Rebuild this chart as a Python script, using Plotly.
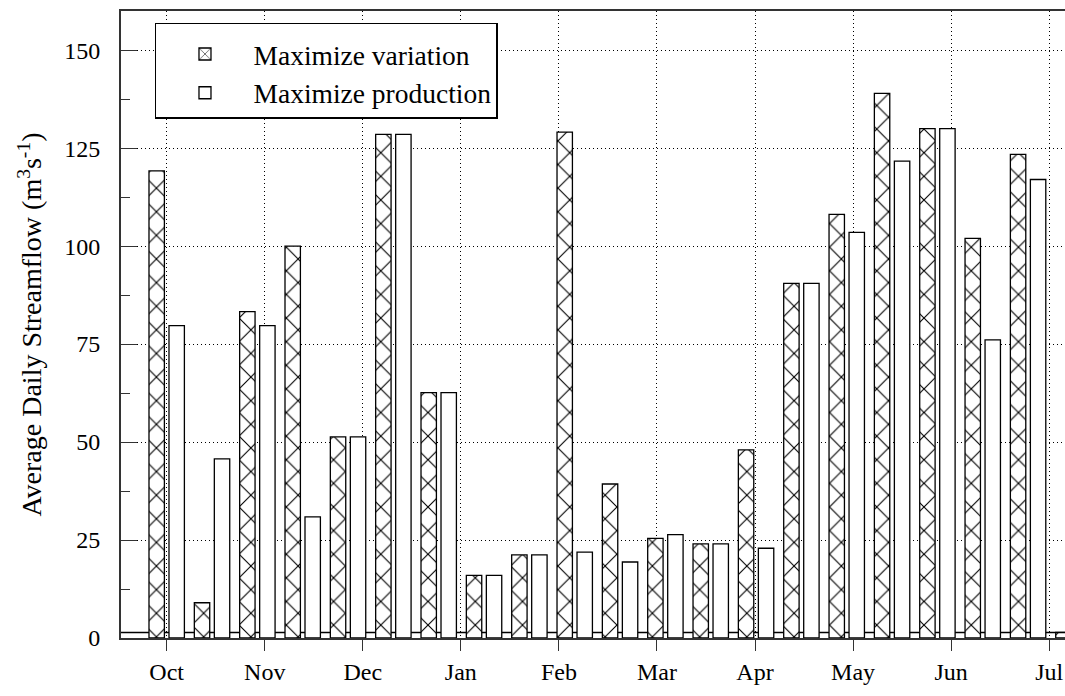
import plotly.graph_objects as go

# ---- data ----
months = ["Oct", "Nov", "Dec", "Jan", "Feb", "Mar", "Apr", "May", "Jun", "Jul"]
period_index = list(range(21))
variation = [119.2, 9.0, 83.3, 100.0, 51.3, 128.5, 62.6, 16.0, 21.2, 129.1,
             39.3, 25.4, 24.0, 48.0, 90.5, 108.1, 139.0, 130.0, 102.0, 123.4, 1.4]
production = [79.7, 45.7, 79.7, 30.9, 51.3, 128.5, 62.6, 16.0, 21.2, 21.9,
              19.4, 26.4, 24.0, 22.9, 90.5, 103.5, 121.7, 130.0, 76.1, 117.0, 1.4]
min_flow = 1.4

PERIOD_DAYS = 14
MONTH_DAYS = 30.28
x_days = [PERIOD_DAYS * i for i in period_index]

FONT = "Liberation Serif, Times New Roman, serif"

fig = go.Figure()
fig.add_trace(go.Bar(
    x=x_days, y=variation, name="Maximize variation",
    marker=dict(color="white", line=dict(color="black", width=1.3),
                pattern=dict(shape="x", size=16.7, solidity=0.13,
                             fgcolor="black", bgcolor="white", fillmode="replace")),
))
fig.add_trace(go.Bar(
    x=x_days, y=production, name="Maximize production",
    marker=dict(color="white", line=dict(color="black", width=1.3)),
))

fig.add_hline(y=min_flow, line=dict(color="black", width=1.3), layer="below")

axis_col = "#333333"
grid = dict(showgrid=True, gridcolor="black", gridwidth=1, griddash="1px,3px")

fig.update_layout(
    width=1065, height=696,
    margin=dict(l=121, r=0, t=11, b=58, pad=0),
    paper_bgcolor="white", plot_bgcolor="white",
    barmode="group", bargap=0.1176, bargroupgap=0.23,
    font=dict(family=FONT, size=24, color="black"),
    showlegend=True,
    legend=dict(x=0.036, y=0.981, xanchor="left", yanchor="top",
                bgcolor="white", bordercolor="black", borderwidth=1.5,
                font=dict(size=27.5, family=FONT), itemwidth=87,
                title=dict(text=" ", font=dict(size=4)),
                tracegroupgap=0),
    xaxis=dict(range=[-14.11, 277.4], tickmode="array",
               tickvals=[k * MONTH_DAYS for k in range(len(months))],
               ticktext=months, ticks="outside", ticklen=11, tickwidth=1.3,
               tickcolor=axis_col, showline=True, linecolor=axis_col,
               linewidth=1.8, mirror=True, zeroline=False,
               tickfont=dict(size=24), **grid),
    yaxis=dict(range=[0, 160], dtick=25, tick0=0, ticks="inside", ticklen=16,
               tickwidth=1.3, tickcolor=axis_col, showline=True,
               linecolor=axis_col, linewidth=1.8, zeroline=False,
               ticklabelstandoff=14,
               minor=dict(dtick=12.5, ticks="inside", ticklen=9,
                          tickcolor=axis_col, tickwidth=1.3),
               title=dict(text="Average Daily Streamflow (m<sup>3</sup>s<sup>-1</sup>)",
                          font=dict(size=28), standoff=14),
               tickfont=dict(size=24), **grid),
    yaxis2=dict(range=[0, 160], dtick=25, tick0=0, overlaying="y", side="right",
                ticks="inside", ticklen=8, tickwidth=1.3, tickcolor=axis_col,
                showticklabels=False, showgrid=False, showline=False,
                zeroline=False,
                minor=dict(dtick=12.5, ticks="inside", ticklen=1,
                           tickcolor=axis_col, tickwidth=1.3)),
)

fig.write_html("out.html")
